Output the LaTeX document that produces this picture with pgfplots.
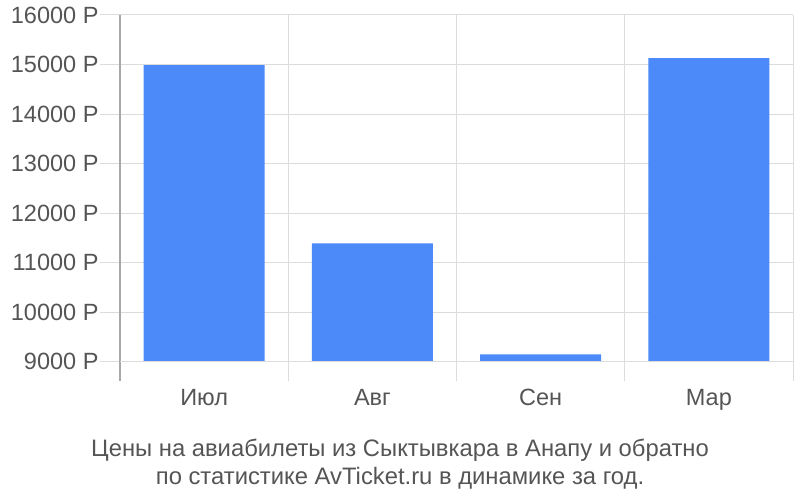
\documentclass[border=0pt]{standalone}
\usepackage{fontspec}
\setmainfont{Liberation Sans}
\usepackage{pgfplots}
\pgfplotsset{compat=1.18}
\definecolor{barblue}{HTML}{4C89F9}
\definecolor{gridgray}{HTML}{DCDCDC}
\definecolor{axisgray}{HTML}{A8A8A8}
\definecolor{textgray}{HTML}{555555}

\begin{document}
\begin{tikzpicture}
\path[use as bounding box] (0,0) rectangle (800pt,500pt);
\begin{axis}[
    at={(120pt,119pt)}, anchor=south west,
    scale only axis,
    width=673pt, height=366pt,
    xmin=-0.5, xmax=3.5,
    ymin=8611, ymax=16000,
    y coord trafo/.code={\pgfmathparse{#1-9000}},
    y coord inv trafo/.code={\pgfmathparse{#1+9000}},
    ybar, bar width=121pt,
    xtick={0,1,2,3},
    xticklabels={Июл,Авг,Сен,Мар},
    minor xtick={-0.5,0.5,1.5,2.5,3.5},
    xminorgrids=true,
    ytick={9000,10000,11000,12000,13000,14000,15000,16000},
    yticklabels={9000 Р,10000 Р,11000 Р,12000 Р,13000 Р,14000 Р,15000 Р,16000 Р},
    ymajorgrids=true,
    grid style={gridgray, line width=1pt},
    minor grid style={gridgray, line width=1pt},
    axis x line*=bottom,
    axis y line*=left,
    x axis line style={draw=none},
    y axis line style={axisgray, line width=1.2pt},
    xtick style={draw=none},
    minor tick length=0pt,
    ytick style={gridgray, line width=1pt},
    major tick length=20pt,
    tick align=outside,
    yticklabel style={font=\fontsize{23.5}{26}\selectfont, text=textgray, xshift=2pt},
    xticklabel style={font=\fontsize{23.5}{26}\selectfont, text=textgray, yshift=15pt},
    clip=false,
]
\addplot[fill=barblue, draw=none] coordinates {
    (0,14990)
    (1,11390)
    (2,9150)
    (3,15128)
};
\draw[gridgray, line width=1pt] (axis cs:-0.5,9000) -- (axis cs:3.5,9000);
\end{axis}
\node[text=textgray, font=\fontsize{23.8}{28}\selectfont, align=center] at (400pt,36pt)
    {Цены на авиабилеты из Сыктывкара в Анапу и обратно\\по статистике AvTicket.ru в динамике за год.};
\end{tikzpicture}
\end{document}
